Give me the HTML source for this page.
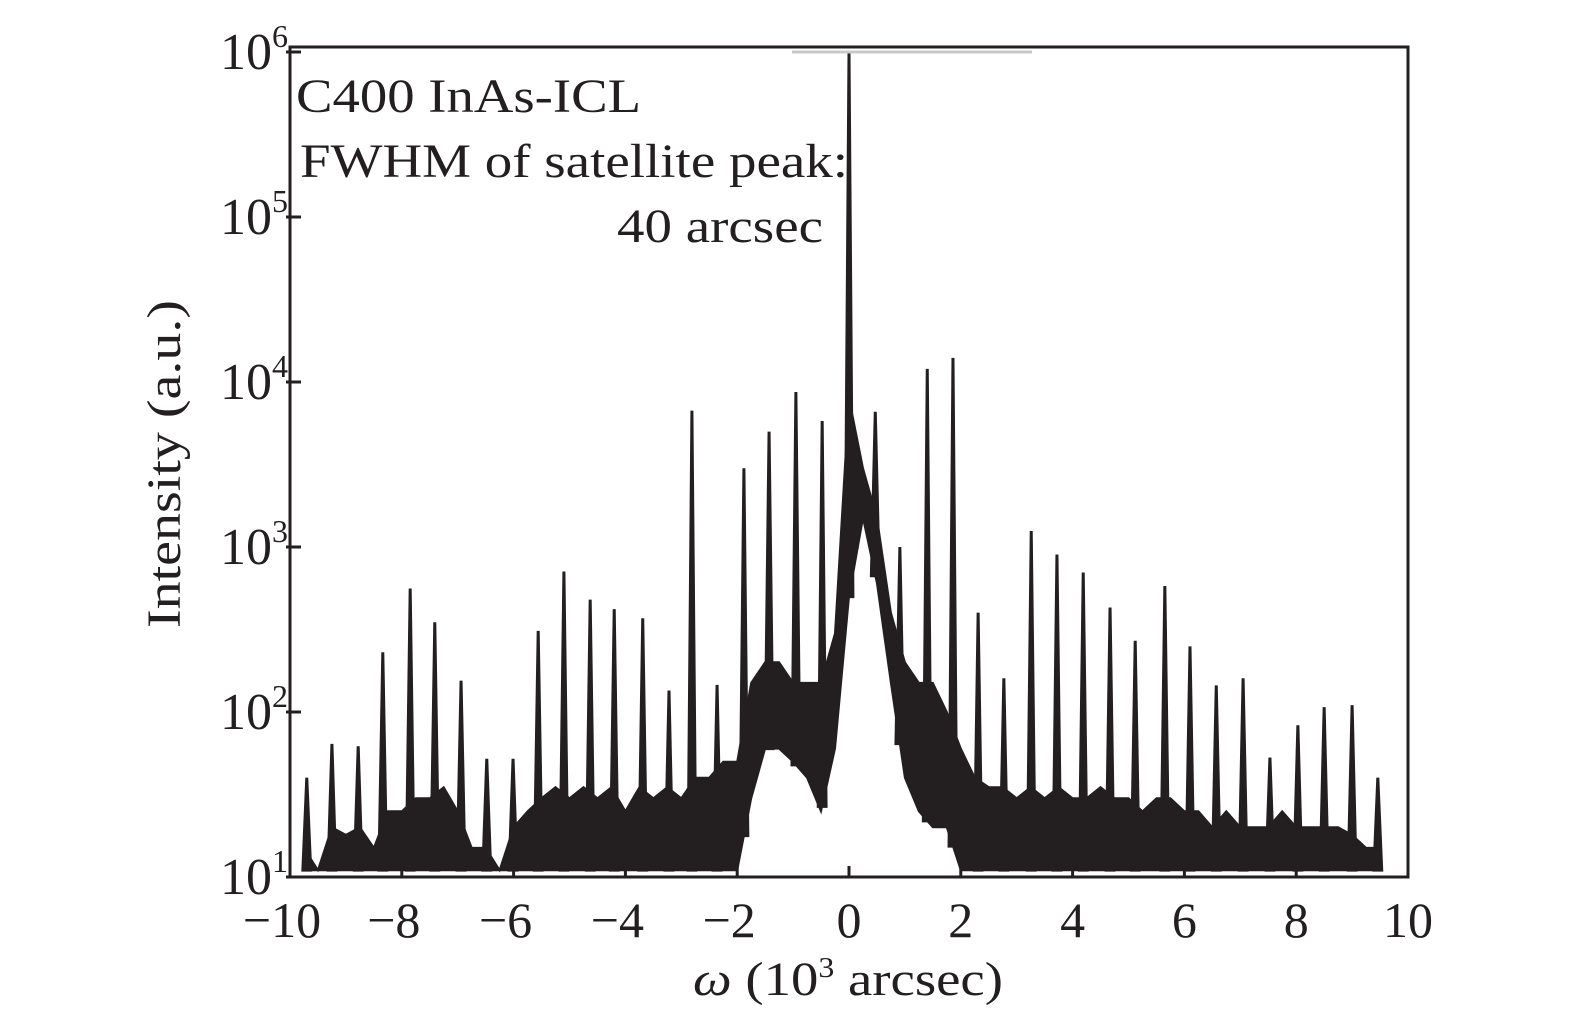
<!DOCTYPE html>
<html><head><meta charset="utf-8">
<style>
html,body{margin:0;padding:0;background:#fff;}
svg{display:block;font-family:"Liberation Serif",serif;}
</style></head>
<body>
<svg id="chart" width="1575" height="1024" viewBox="0 0 1575 1024" xmlns="http://www.w3.org/2000/svg">
<g id="marks"></g>
<line x1="792" y1="52" x2="1032" y2="52" stroke="#c8c8c8" stroke-width="3"/>
<rect x="290" y="47" width="1118" height="830" fill="none" stroke="#231f20" stroke-width="3"/>
<g id="axes"></g>
<g font-size="48" fill="#231f20">
<text x="296" y="112" textLength="345" lengthAdjust="spacingAndGlyphs">C400 InAs-ICL</text>
<text x="300" y="177" textLength="548" lengthAdjust="spacingAndGlyphs">FWHM of satellite peak:</text>
<text x="617" y="242" textLength="206" lengthAdjust="spacingAndGlyphs">40 arcsec</text>
</g>
<text x="693" y="995" font-size="48" fill="#231f20" textLength="310" lengthAdjust="spacingAndGlyphs"><tspan font-style="italic">ω</tspan> (10<tspan font-size="28" dy="-18">3</tspan><tspan dy="18"> arcsec)</tspan></text>
<text transform="translate(180,628) rotate(-90)" font-size="48" fill="#231f20" textLength="328" lengthAdjust="spacingAndGlyphs">Intensity (a.u.)</text>
</svg>
<script>
const peakX=[-9.70,-9.25,-8.78,-8.34,-7.85,-7.41,-6.94,-6.48,-6.01,-5.56,-5.10,-4.63,-4.20,-3.69,-3.22,-2.81,-2.36,-1.88,-1.43,-0.95,-0.48,0,0.47,0.91,1.40,1.86,2.31,2.77,3.26,3.72,4.19,4.67,5.12,5.65,6.10,6.57,7.05,7.53,8.03,8.50,9.00,9.46];
const peakY=[40,64,62,230,560,350,155,52,52,310,710,480,420,370,135,6700,146,3000,5000,8700,5800,1000000,6600,1000,12000,14000,400,160,1250,900,700,430,270,580,250,145,160,53,83,107,110,40];
const bgX=[-9.75,-9.5,-9.25,-9,-8.75,-8.5,-8.25,-8,-7.75,-7.5,-7.25,-7,-6.75,-6.5,-6.25,-6,-5.75,-5.5,-5.25,-5,-4.75,-4.5,-4.25,-4,-3.75,-3.5,-3.25,-3,-2.75,-2.5,-2.25,-2,-1.75,-1.5,-1.25,-1,-0.75,-0.5,-0.25,0,0.25,0.5,0.75,1,1.25,1.5,1.75,2,2.25,2.5,2.75,3,3.25,3.5,3.75,4,4.25,4.5,4.75,5,5.25,5.5,5.75,6,6.25,6.5,6.75,7,7.25,7.5,7.75,8,8.25,8.5,8.75,9,9.25,9.5];
const bgHi=[15,11,20,18,20,15,25,25,30,30,35,25,15,15,11,20,25,30,35,30,35,30,35,25,35,30,35,30,40,40,50,50,150,200,200,150,150,150,300,8000,3000,1500,400,200,150,150,100,60,40,35,35,30,35,30,35,30,30,35,30,30,25,30,30,25,25,20,25,20,20,20,25,20,20,20,20,18,15,15];
const bgLo=[11,11,11,11,11,11,11,11,11,11,11,11,11,11,11,11,11,11,11,11,11,11,11,11,11,11,11,11,11,11,11,11,30,60,60,50,40,25,60,500,1500,600,150,40,25,20,20,11,11,11,11,11,11,11,11,11,11,11,11,11,11,11,11,11,11,11,11,11,11,11,11,11,11,11,11,11,11,11];
const xTicks=[-10,-8,-6,-4,-2,0,2,4,6,8,10];
const yTickExp=[1,2,3,4,5,6];

const X0=290,X1=1408,YB=877,YT=52;
function sx(v){return X0+(v+10)/20*(X1-X0);}
function sy(v){return YB-(Math.log10(v)-1)/5*(YB-YT);}
function interp(arr,x){
  for(let i=0;i<bgX.length-1;i++){if(x>=bgX[i]&&x<=bgX[i+1]){const t=(x-bgX[i])/(bgX[i+1]-bgX[i]);return Math.exp(Math.log(arr[i])*(1-t)+Math.log(arr[i+1])*t);}}
  return x<bgX[0]?arr[0]:arr[arr.length-1];
}
const NS="http://www.w3.org/2000/svg";
const marks=document.getElementById('marks');
const upperPts=[],lowerPts=[];
for(let i=0;i<bgX.length;i++){upperPts.push(sx(bgX[i]).toFixed(1)+','+sy(bgHi[i]).toFixed(1));lowerPts.unshift(sx(bgX[i]).toFixed(1)+','+sy(bgLo[i]).toFixed(1));}
const band=document.createElementNS(NS,'polygon');
band.setAttribute('points',upperPts.concat(lowerPts).join(' '));
band.setAttribute('fill','#231f20');band.setAttribute('stroke','#231f20');band.setAttribute('stroke-width','2');


marks.appendChild(band);
for(let i=0;i<peakX.length;i++){
  const x=peakX[i],w=0.07,b=interp(bgLo,x);
  const p=document.createElementNS(NS,'polygon');
  p.setAttribute('points',[sx(x-w)+','+sy(b),sx(x)+','+sy(peakY[i]),sx(x+w)+','+sy(b)].join(' '));
  p.setAttribute('fill','#231f20');p.setAttribute('stroke','#231f20');p.setAttribute('stroke-width','3');
  
  
  marks.appendChild(p);
}
const axes=document.getElementById('axes');
xTicks.forEach(t=>{
  const l=document.createElementNS(NS,'line');
  l.setAttribute('x1',sx(t));l.setAttribute('x2',sx(t));l.setAttribute('y1',YB);l.setAttribute('y2',YB-11);
  l.setAttribute('stroke','#231f20');l.setAttribute('stroke-width','3');
  
  
  axes.appendChild(l);
  const tx=document.createElementNS(NS,'text');
  tx.setAttribute('x',sx(t)+(t<0?-8:0));tx.setAttribute('y',937);tx.setAttribute('font-size','50');tx.setAttribute('text-anchor','middle');tx.setAttribute('fill','#231f20');
  tx.textContent=(t<0?'\u2212':'')+Math.abs(t);
  
  
  axes.appendChild(tx);
});
yTickExp.forEach(e=>{
  const y=sy(Math.pow(10,e));
  const l=document.createElementNS(NS,'line');
  l.setAttribute('x1',X0-4);l.setAttribute('x2',X0+11);l.setAttribute('y1',y);l.setAttribute('y2',y);
  l.setAttribute('stroke','#231f20');l.setAttribute('stroke-width','3');
  
  
  axes.appendChild(l);
  const tx=document.createElementNS(NS,'text');
  tx.setAttribute('x',288);tx.setAttribute('y',y+17);tx.setAttribute('font-size','52');tx.setAttribute('text-anchor','end');tx.setAttribute('fill','#231f20');
  tx.innerHTML='10<tspan font-size="32" dy="-22">'+e+'</tspan>';
  
  
  axes.appendChild(tx);
});
</script>
</body></html>
